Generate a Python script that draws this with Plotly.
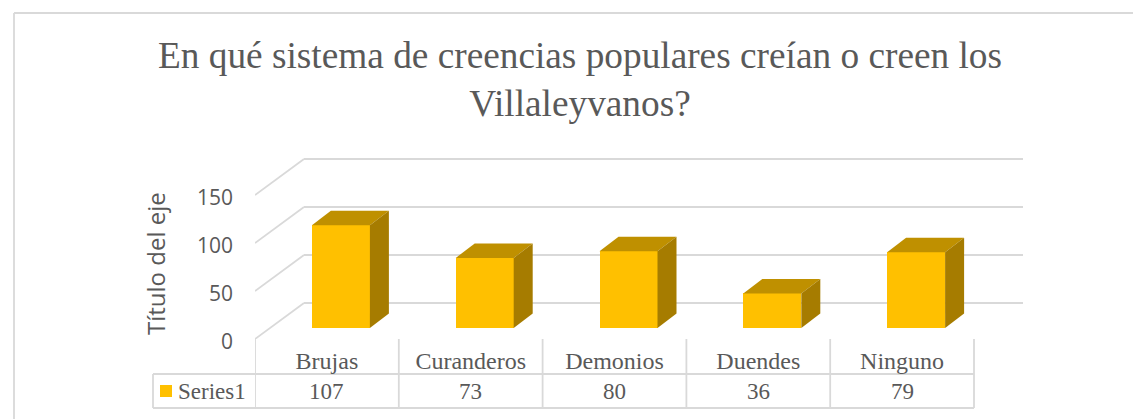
import plotly.graph_objects as go

categorias = ["Brujas", "Curanderos", "Demonios", "Duendes", "Ninguno"]
valores = [107, 73, 80, 36, 79]
ticks_y = [0, 50, 100, 150]
serie = "Series1"
titulo = "En qué sistema de creencias populares creían o creen los<br>Villaleyvanos?"
titulo_eje = "Título del eje"

GRIS = "#d9d9d9"
TEXTO = "#595959"
FRENTE = "#ffc000"
TAPA = "#bf9000"
LADO = "#a67c00"
SERIF = "Liberation Serif"
SANS = "Open Sans"

# area del grafico en pixeles de la figura
X0 = 255
X1 = 1024
Y0 = 339
Y1 = 150
PX_X = 143.8
PX_Y = 0.96


# pixel a coordenadas paper, las formas en paper no se recortan
def px(x):
    return (x - X0) / (X1 - X0)


def py(y):
    return (Y0 - y) / (Y0 - Y1)


fig = go.Figure()

# cara frontal
desp = 14 / PX_X
ancho = 58 / PX_X
base = 11 / PX_Y
xs = [i + desp for i in range(len(valores))]
fig.add_trace(go.Bar(x=xs, y=valores, base=base, width=ancho,
                     marker=dict(color=FRENTE, line=dict(width=0)), showlegend=False, hoverinfo="skip"))

# tapa y lado de cada barra, desde los mismos valores
prof_x = 19 / PX_X
prof_y = 14.5 / PX_Y
for x, v in zip(xs, valores):
    izq, der, arriba = x - ancho / 2, x + ancho / 2, base + v
    fig.add_trace(go.Scatter(x=[izq, der, der + prof_x, izq + prof_x, izq],
                             y=[arriba, arriba, arriba + prof_y, arriba + prof_y, arriba],
                             fill="toself", fillcolor=TAPA, mode="lines", line=dict(width=0),
                             showlegend=False, hoverinfo="skip"))
    fig.add_trace(go.Scatter(x=[der, der + prof_x, der + prof_x, der, der],
                             y=[base, base + prof_y, arriba + prof_y, arriba, base],
                             fill="toself", fillcolor=LADO, mode="lines", line=dict(width=0),
                             showlegend=False, hoverinfo="skip"))

formas = []
linea = dict(color=GRIS, width=1.8)


def segmento(x0, y0, x1, y1, xref="paper", yref="paper"):
    formas.append(dict(type="line", xref=xref, yref=yref, x0=x0, y0=y0, x1=x1, y1=y1, line=linea, layer="below"))


# pared del fondo y diagonales
pared_x = 49 / PX_X
pared_y = 36 / PX_Y
n = len(categorias)
for t in ticks_y:
    segmento(-0.5, t, -0.5 + pared_x, t + pared_y, "x", "y")
    segmento(-0.5 + pared_x, t + pared_y, n - 0.5 + pared_x, t + pared_y, "x", "y")

# tabla de datos
for i in range(n + 1):
    segmento(i - 0.5, 0, i - 0.5, py(408), "x", "paper")
segmento(px(153), py(374), px(X0 + n * PX_X), py(374))
segmento(px(153), py(408), px(X0 + n * PX_X), py(408))
segmento(px(153), py(374), px(153), py(408))

# muestra de la leyenda
formas.append(dict(type="rect", xref="paper", yref="paper", x0=px(160), x1=px(172), y0=py(385), y1=py(397),
                   fillcolor=FRENTE, line=dict(width=0)))

# borde del grafico
segmento(px(14), py(13), px(14), py(419))
segmento(px(14), py(13), px(1133), py(13))

notas = [dict(xref="paper", yref="paper", x=px(176), y=py(391), text=serie, showarrow=False,
              xanchor="left", yanchor="middle", font=dict(family=SERIF, size=23, color=TEXTO)),
         dict(xref="paper", yref="paper", x=px(155), y=py(264), text=titulo_eje, showarrow=False, textangle=-90,
              xanchor="center", yanchor="middle", font=dict(family=SANS, size=24, color=TEXTO))]
for i, v in enumerate(valores):
    notas.append(dict(xref="x", yref="paper", x=i, y=py(391), text=str(v), showarrow=False, yanchor="middle",
                      font=dict(family=SERIF, size=23, color=TEXTO)))

fig.update_layout(
    width=1133, height=419, autosize=False,
    margin=dict(l=X0, r=1133 - X1, t=Y1, b=419 - Y0),
    paper_bgcolor="white", plot_bgcolor="rgba(0,0,0,0)",
    title=dict(text=titulo, x=580 / 1133, xanchor="center", y=1 - 68 / 419, yanchor="middle",
               font=dict(family=SERIF, size=37.3, color=TEXTO)),
    shapes=formas, annotations=notas, showlegend=False, bargap=0,
    xaxis=dict(range=[-0.5, (X1 - X0) / PX_X - 0.5], tickmode="array", tickvals=list(range(n)),
               ticktext=categorias, showgrid=False, zeroline=False, showline=False, ticks="",
               ticklabelstandoff=5, tickfont=dict(family=SERIF, size=24, color=TEXTO)),
    yaxis=dict(range=[0, (Y0 - Y1) / PX_Y], tickmode="array", tickvals=ticks_y, showgrid=False, zeroline=False,
               showline=False, ticks="", ticklabelstandoff=21, ticklabelshift=3,
               tickfont=dict(family=SANS, size=21, color=TEXTO)),
)

# sin el margen de 8 px del body
fig.write_html("out.html", config=dict(displayModeBar=False),
               post_script="document.body.style.margin='0';")
